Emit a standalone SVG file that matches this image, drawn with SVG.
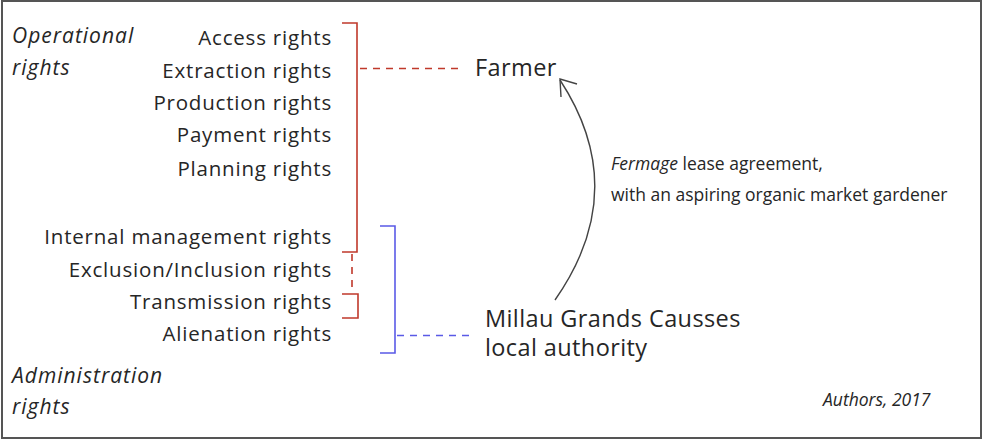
<svg xmlns="http://www.w3.org/2000/svg" width="984" height="441" viewBox="0 0 984 441">
<style>
text{font-family:"Open Sans","Noto Sans","Liberation Sans",sans-serif;fill:#262626}
.r{font-size:20.5px;letter-spacing:0.8px;text-anchor:end}
.cat{font-size:21px;font-style:italic;letter-spacing:1px}
.big{font-size:23.5px;letter-spacing:0.4px}
.note{font-size:17.5px}
.red{stroke:#c0392b;stroke-width:1.6;fill:none}
.blue{stroke:#5a5ae6;stroke-width:1.6;fill:none}
.dash{stroke-dasharray:7 6}
</style>
<rect x="2" y="1" width="979" height="437" fill="#fff" stroke="#555" stroke-width="2"/>
<g id="operational-rights">
<text class="cat" x="12" y="43">Operational</text>
<text class="cat" x="12" y="75">rights</text>
</g>
<g id="administration-rights">
<text class="cat" x="12" y="383">Administration</text>
<text class="cat" x="12" y="414">rights</text>
</g>
<g id="rights-list">
<text class="r" x="332" y="45">Access rights</text>
<text class="r" x="332" y="78">Extraction rights</text>
<text class="r" x="332" y="110">Production rights</text>
<text class="r" x="332" y="142">Payment rights</text>
<text class="r" x="332" y="176">Planning rights</text>
<text class="r" x="332" y="244">Internal management rights</text>
<text class="r" x="332" y="277">Exclusion/Inclusion rights</text>
<text class="r" x="332" y="309">Transmission rights</text>
<text class="r" x="332" y="341">Alienation rights</text>
</g>
<g id="farmer"><text class="big" x="475" y="76">Farmer</text></g>
<g id="authority">
<text class="big" x="485" y="327">Millau Grands Causses</text>
<text class="big" x="485" y="356">local authority</text>
</g>
<g id="lease-label">
<text class="note" x="611" y="170"><tspan font-style="italic">Fermage</tspan> lease agreement,</text>
<text class="note" x="611" y="201">with an aspiring organic market gardener</text>
</g>
<g id="source"><text class="note" font-style="italic" x="823" y="406">Authors, 2017</text></g>
<g id="connectors">
<polyline class="red" points="342,23 357,23 357,252 342,252"/>
<line class="red dash" x1="360" y1="68.5" x2="463" y2="68.5"/>
<line class="red dash" x1="352" y1="254" x2="352" y2="293"/>
<polyline class="red" points="342,294 358,294 358,318 342,318"/>
<polyline class="blue" points="380,226 395,226 395,353 380,353"/>
<line class="blue dash" x1="397" y1="335.5" x2="472" y2="335.5"/>
<path d="M555,300 Q632,190 560,80" fill="none" stroke="#444" stroke-width="1.4"/>
<polyline points="577,84 560,79 561,97" fill="none" stroke="#444" stroke-width="1.4"/>
</g>
</svg>
